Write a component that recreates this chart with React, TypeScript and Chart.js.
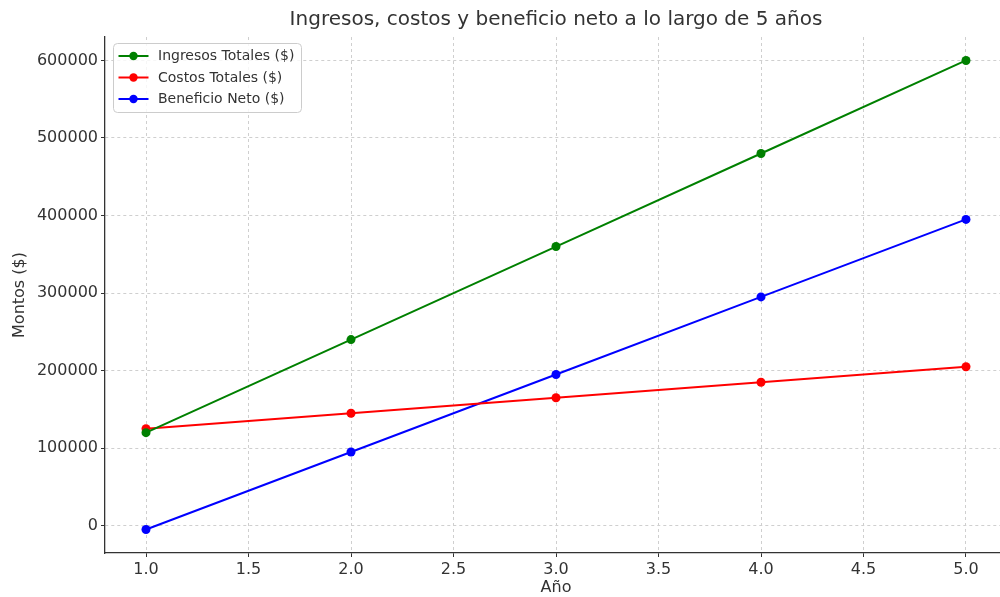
import React, { useEffect, useRef } from "react";
import { Chart, registerables } from "chart.js";

Chart.register(...registerables);

const years = [1, 2, 3, 4, 5];
const ingresos = [120000, 240000, 360000, 480000, 600000];
const costos = [125000, 145000, 165000, 185000, 205000];
const beneficio = [-5000, 95000, 195000, 295000, 395000];
const xTicks = [1.0, 1.5, 2.0, 2.5, 3.0, 3.5, 4.0, 4.5, 5.0];
const yTicks = [0, 100000, 200000, 300000, 400000, 500000, 600000];
const seriesLabels = ["Ingresos Totales ($)", "Costos Totales ($)", "Beneficio Neto ($)"];
const seriesColors = ["#008000", "#ff0000", "#0000ff"];
const chartTitle = "Ingresos, costos y beneficio neto a lo largo de 5 años";
const xLabel = "Año";
const yLabel = "Montos ($)";

const FONT = "'DejaVu Sans', sans-serif";
const TEXT = "#333333";

const legendPlugin = {
  id: "mplLegend",
  afterDraw(chart: any) {
    const ctx = chart.ctx;
    const ca = chart.chartArea;
    const x0 = ca.left + 8.5;
    const y0 = ca.top + 6.5;
    const w = 188;
    const h = 69;
    const r = 4;
    ctx.save();
    ctx.beginPath();
    ctx.moveTo(x0 + r, y0);
    ctx.lineTo(x0 + w - r, y0);
    ctx.quadraticCurveTo(x0 + w, y0, x0 + w, y0 + r);
    ctx.lineTo(x0 + w, y0 + h - r);
    ctx.quadraticCurveTo(x0 + w, y0 + h, x0 + w - r, y0 + h);
    ctx.lineTo(x0 + r, y0 + h);
    ctx.quadraticCurveTo(x0, y0 + h, x0, y0 + h - r);
    ctx.lineTo(x0, y0 + r);
    ctx.quadraticCurveTo(x0, y0, x0 + r, y0);
    ctx.closePath();
    ctx.fillStyle = "rgba(255,255,255,0.8)";
    ctx.fill();
    ctx.strokeStyle = "#cccccc";
    ctx.lineWidth = 1;
    ctx.stroke();
    chart.data.datasets.forEach((ds: any, i: number) => {
      const cy = y0 + 12.5 + i * 21.5;
      ctx.strokeStyle = ds.borderColor;
      ctx.lineWidth = 2;
      ctx.beginPath();
      ctx.moveTo(x0 + 5, cy);
      ctx.lineTo(x0 + 35, cy);
      ctx.stroke();
      ctx.fillStyle = ds.borderColor;
      ctx.beginPath();
      ctx.arc(x0 + 20, cy, 4.2, 0, Math.PI * 2);
      ctx.fill();
      ctx.fillStyle = TEXT;
      ctx.font = `14px ${FONT}`;
      ctx.textBaseline = "middle";
      ctx.textAlign = "left";
      ctx.fillText(ds.label, x0 + 44.5, cy + 0.5);
    });
    ctx.restore();
  },
};

export default function App() {
  const ref = useRef<HTMLCanvasElement | null>(null);

  useEffect(() => {
    if (!ref.current) return;
    const seriesValues = [ingresos, costos, beneficio];
    const chart = new Chart(ref.current, {
      type: "line",
      data: {
        datasets: seriesValues.map((vals, i) => ({
          label: seriesLabels[i],
          data: years.map((x, j) => ({ x, y: vals[j] })),
          borderColor: seriesColors[i],
          backgroundColor: seriesColors[i],
          borderWidth: 2,
          pointRadius: 4.5,
          pointBorderWidth: 0,
          pointBackgroundColor: seriesColors[i],
          tension: 0,
          fill: false,
        })),
      },
      options: {
        animation: false,
        responsive: false,
        maintainAspectRatio: false,
        layout: { padding: { left: 0, right: 5, top: 0, bottom: 0 } },
        plugins: {
          legend: { display: false },
          tooltip: { enabled: false },
          title: {
            display: true,
            text: chartTitle,
            fullSize: false,
            color: TEXT,
            font: { family: FONT, size: 20, weight: "normal", lineHeight: 1.2 },
            padding: { top: 8, bottom: 5 },
          },
        },
        scales: {
          x: {
            type: "linear",
            min: 0.8,
            max: 5.2,
            afterBuildTicks: (scale: any) => {
              scale.ticks = xTicks.map((v) => ({ value: v }));
            },
            afterFit: (scale: any) => {
              scale.height = 44;
            },
            ticks: {
              color: TEXT,
              font: { family: FONT, size: 16 },
              padding: 3,
              maxRotation: 0,
              autoSkip: false,
              callback: (v: any) => Number(v).toFixed(1),
            },
            grid: {
              color: "#cfcfcf",
              lineWidth: 1,
              tickLength: 4,
              tickColor: "#333333",
              tickWidth: 1,
            },
            border: { display: true, color: "#333333", width: 1.3, dash: [3, 3] },
            title: {
              display: true,
              text: xLabel,
              color: TEXT,
              font: { family: FONT, size: 16, lineHeight: 1.2 },
              padding: { top: 0, bottom: 0 },
            },
          },
          y: {
            type: "linear",
            min: -35250,
            max: 630250,
            afterBuildTicks: (scale: any) => {
              scale.ticks = yTicks.map((v) => ({ value: v }));
            },
            afterFit: (scale: any) => {
              scale.width = 105;
            },
            ticks: {
              color: TEXT,
              font: { family: FONT, size: 16 },
              padding: 3,
              autoSkip: false,
              callback: (v: any) => String(v),
            },
            grid: {
              color: "#cfcfcf",
              lineWidth: 1,
              tickLength: 4,
              tickColor: "#333333",
              tickWidth: 1,
            },
            border: { display: true, color: "#333333", width: 1.3, dash: [3, 3] },
            title: {
              display: true,
              text: yLabel,
              color: TEXT,
              font: { family: FONT, size: 16, lineHeight: 1.2 },
              padding: { top: 10.4, bottom: 0 },
            },
          },
        },
      },
      plugins: [legendPlugin],
    });
    return () => chart.destroy();
  }, []);

  return (
    <div
      style={{
        position: "fixed",
        left: 0,
        top: 0,
        width: 1000,
        height: 597,
        overflow: "hidden",
        background: "#ffffff",
      }}
    >
      <canvas ref={ref} width={1012} height={597} style={{ display: "block", width: 1012, height: 597 }} />
    </div>
  );
}
